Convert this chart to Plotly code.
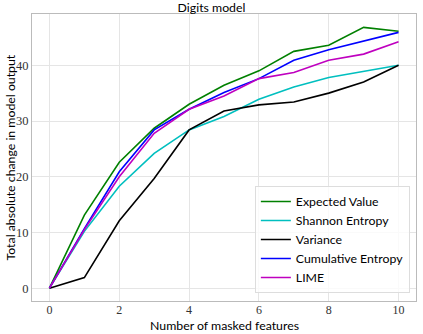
import plotly.graph_objects as go

# number of masked features
n_masked = [0, 1, 2, 3, 4, 5, 6, 7, 8, 9, 10]

expected_value = [0, 13.1, 22.6, 28.7, 33.0, 36.4, 39.0, 42.5, 43.6, 46.8, 46.1]
shannon_entropy = [0, 10.2, 18.3, 24.2, 28.4, 30.8, 33.9, 36.1, 37.8, 38.9, 40.0]
variance = [0, 1.9, 12.1, 19.7, 28.4, 31.8, 32.9, 33.4, 35.0, 37.0, 40.0]
cumulative_entropy = [0, 10.7, 20.9, 28.4, 32.1, 35.1, 37.6, 40.9, 42.8, 44.3, 45.9]
lime = [0, 10.5, 20.0, 27.8, 32.1, 34.5, 37.6, 38.7, 40.9, 42.0, 44.2]

series = [
    ("Expected Value", expected_value, "#008000"),
    ("Shannon Entropy", shannon_entropy, "#00BFBF"),
    ("Variance", variance, "#000000"),
    ("Cumulative Entropy", cumulative_entropy, "#0000FF"),
    ("LIME", lime, "#BF00BF"),
]

fig = go.Figure()
for name, vals, col in series:
    fig.add_trace(go.Scatter(x=n_masked, y=vals, mode="lines", name=name,
                             line=dict(color=col, width=1.6)))

sans = "Lato"
serif = "Liberation Serif"
fs = 12.3

fig.update_layout(
    width=423, height=334,
    margin=dict(l=32, r=7, t=14, b=33),
    plot_bgcolor="white", paper_bgcolor="white",
    title=dict(text="Digits model", x=0.5, xanchor="center",
               yref="container", y=1 - 8 / 334, yanchor="middle",
               font=dict(family=sans, size=fs, color="black")),
    legend=dict(x=0.984, y=0.028, xanchor="right", yanchor="bottom",
                bgcolor="rgba(255,255,255,0.8)", bordercolor="#dddddd", borderwidth=1,
                font=dict(family=sans, size=fs, color="black"),
                itemwidth=30, tracegroupgap=0),
    annotations=[
        dict(text="Number of masked features", xref="paper", yref="paper",
             x=0.5, y=0, yshift=-24, xanchor="center", yanchor="middle",
             borderpad=0, showarrow=False, font=dict(family=sans, size=fs, color="black")),
        dict(text="Total absolute change in model output", xref="paper", yref="paper",
             x=0, y=0.5, xshift=-22, xanchor="center", yanchor="middle", textangle=-90,
             borderpad=0, showarrow=False, font=dict(family=sans, size=fs, color="black")),
    ],
)
fig.update_xaxes(
    range=[-0.5, 10.5], tickvals=[0, 2, 4, 6, 8, 10], automargin=False,
    showgrid=True, gridcolor="#e5e5e5", gridwidth=1, zeroline=False,
    showline=True, linecolor="#bbbbbb", linewidth=1, mirror=True,
    ticks="", ticklabelstandoff=-2,
    tickfont=dict(family=serif, size=12, color="#333333"),
)
fig.update_yaxes(
    range=[-2.3, 49.2], tickvals=[0, 10, 20, 30, 40], automargin=False,
    showgrid=True, gridcolor="#e5e5e5", gridwidth=1, zeroline=False,
    showline=True, linecolor="#bbbbbb", linewidth=1, mirror=True,
    ticks="", tickfont=dict(family=serif, size=12.5, color="#333333"),
)

# drop the browser's default body margin so the figure sits at the page corner
fig.write_html("out.html", config={"displayModeBar": False},
               post_script="document.body.style.margin='0';")
